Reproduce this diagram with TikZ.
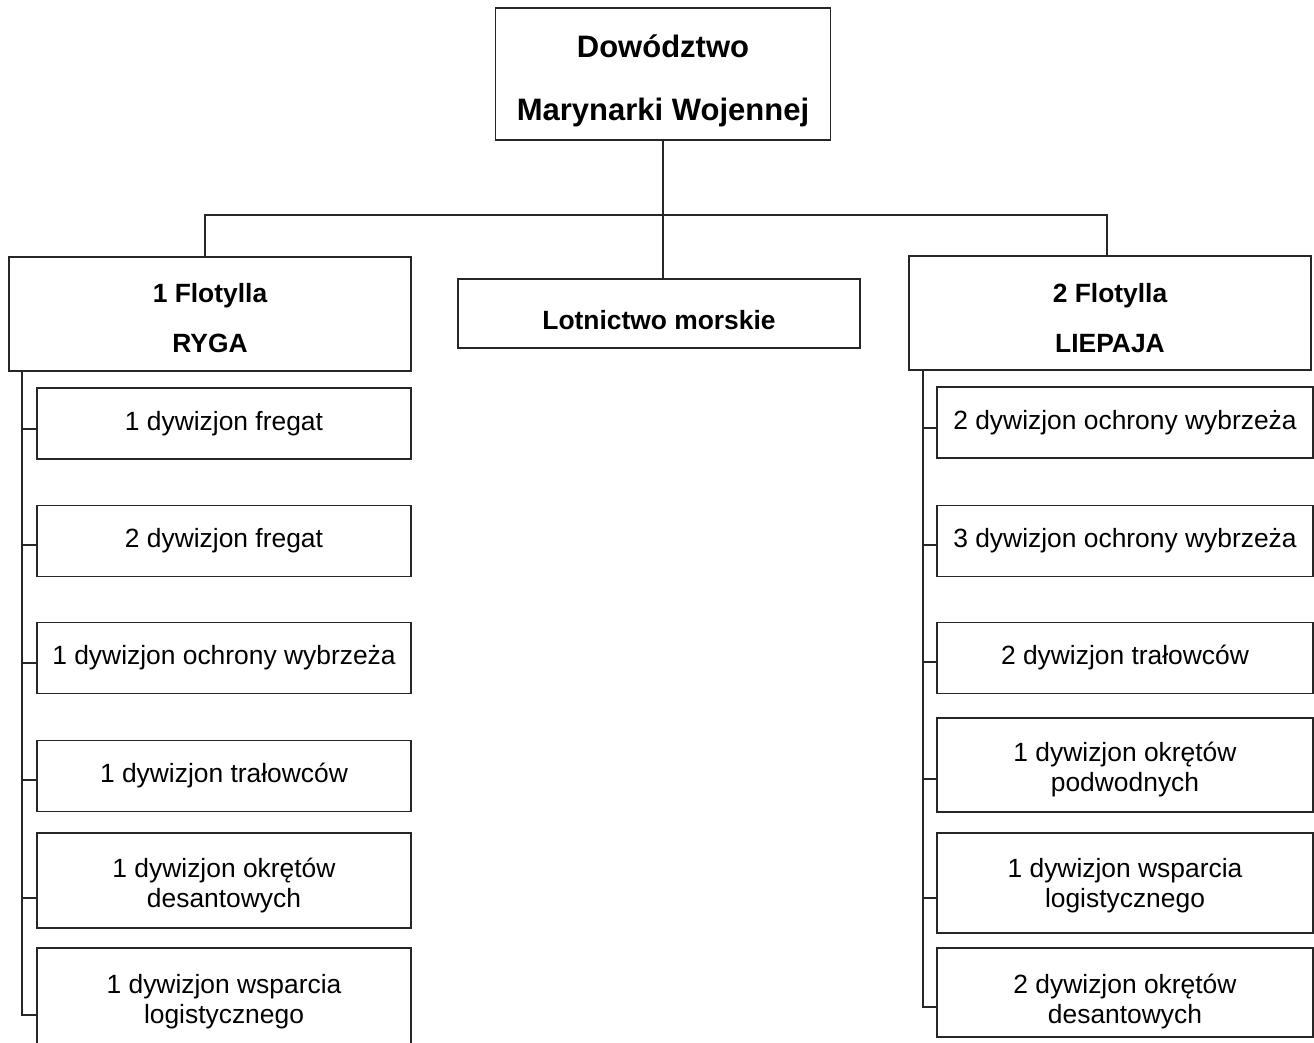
\documentclass[tikz,border=0pt]{standalone}
\usepackage{fontspec}
\setmainfont{Liberation Sans}
\usepackage{tikz}

\begin{document}
\begin{tikzpicture}[x=0.5pt,y=-0.5pt,
    line width=0.9pt, draw=black!85,
    box/.style={draw=black!85, line width=0.9pt, fill=white, align=center, inner sep=0pt},
    dowodztwo/.style={box, minimum width=167.5pt, minimum height=66pt,
        font=\fontsize{15.5}{31.5}\selectfont\bfseries},
    flotylla/.style={box, minimum width=201pt, minimum height=57pt,
        font=\fontsize{13.2}{15}\selectfont\bfseries},
    dywizjon/.style={box, minimum width=187pt, minimum height=35.5pt,
        font=\fontsize{13.2}{15}\selectfont},
    ]
\useasboundingbox (0,0) rectangle (1314,1043);
\fill[white] (0,0) rectangle (1314,1043);

% top level
\node[dowodztwo] (dmw) at (663,74) {\rule{0pt}{18.6pt}Dowództwo\\Marynarki Wojennej};
\node[flotylla] (fl1) at (210,314) {\rule{0pt}{13.6pt}1 Flotylla\\[10pt]RYGA};
\node[flotylla, minimum height=34.5pt] (lot) at (659,313.5) {\rule{0pt}{16pt}Lotnictwo morskie};
\node[flotylla] (fl2) at (1110,313) {\rule{0pt}{14.6pt}2 Flotylla\\[10pt]LIEPAJA};

\coordinate (bus) at (663,215);
\draw (dmw.south) -- (dmw.south |- lot.north);
\draw ([xshift=-2.5pt]fl1.north) |- (bus) -| ([xshift=-1.5pt]fl2.north);

% 1 Flotylla
\node[dywizjon] (r1) at (224,423.5) {1 dywizjon fregat};
\node[dywizjon] (r2) at (224,541) {2 dywizjon fregat};
\node[dywizjon] (r3) at (224,658) {1 dywizjon ochrony wybrzeża};
\node[dywizjon] (r4) at (224,776) {1 dywizjon trałowców};
\node[dywizjon, minimum height=47.5pt] (r5) at (224,880.5) {\rule{0pt}{14.6pt}1 dywizjon okrętów\\desantowych};
\node[dywizjon, minimum height=49pt] (r6) at (224,997) {\rule{0pt}{14.6pt}1 dywizjon wsparcia\\logistycznego};

% 2 Flotylla
\node[dywizjon, minimum width=188pt] (l1) at (1125,422.5) {2 dywizjon ochrony wybrzeża};
\node[dywizjon, minimum width=188pt] (l2) at (1125,541) {3 dywizjon ochrony wybrzeża};
\node[dywizjon, minimum width=188pt] (l3) at (1125,658) {2 dywizjon trałowców};
\node[dywizjon, minimum width=188pt, minimum height=47pt] (l4) at (1125,765) {\rule{0pt}{14.6pt}1 dywizjon okrętów\\podwodnych};
\node[dywizjon, minimum width=188pt, minimum height=50pt] (l5) at (1125,883) {\rule{0pt}{12.6pt}1 dywizjon wsparcia\\logistycznego};
\node[dywizjon, minimum width=188pt, minimum height=44.5pt] (l6) at (1125,992.5) {\rule{0pt}{18.6pt}2 dywizjon okrętów\\desantowych};

% rails
\draw ([xshift=7pt]fl1.south west) |- ([yshift=-9pt]r6.west);
\draw ([xshift=7.5pt]fl2.south west) |- ([yshift=-7.25pt]l6.west);

\foreach \n/\d in {r1/2.75,r2/2,r3/2.5,r4/2,r5/8.75,l1/2.75,l2/2,l3/2,l4/7,l5/7.5}
    \draw ([yshift=-\d pt]\n.west) -- ++(-7pt,0);

\end{tikzpicture}
\end{document}
